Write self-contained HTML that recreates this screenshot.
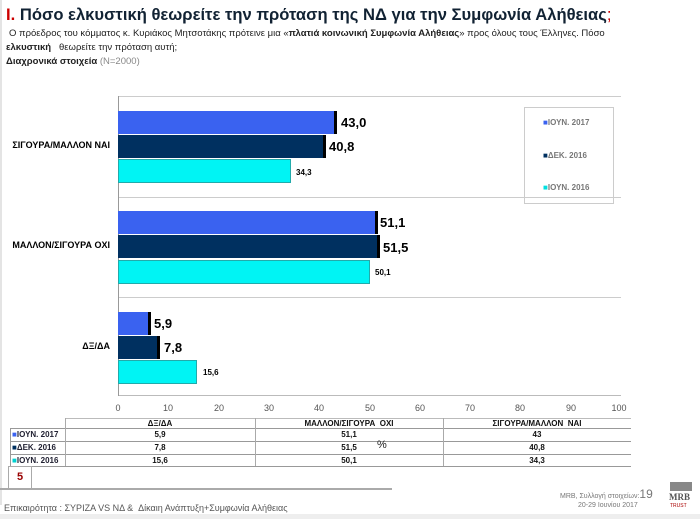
<!DOCTYPE html>
<html><head><meta charset="utf-8"><style>
body{margin:0;width:700px;height:519px;background:#fff;position:relative;overflow:hidden;font-family:"Liberation Sans","DejaVu Sans",sans-serif;}
div{position:absolute;box-sizing:border-box;}
.b{height:23px;}
.c1{background:#3a62f0;}
.c2{background:#003060;}
.c3{background:#00f4f4;border:1px solid #2aa;}
.sh{border-right:3px solid #000;}
.v{font-weight:bold;font-size:13px;color:#000;}
.s{font-weight:bold;font-size:8px;color:#000;}
.cat{font-weight:bold;font-size:9px;right:590px;text-align:right;white-space:nowrap;}
.t{font-size:9px;color:#555;text-align:center;width:30px;}
.cell{font-size:8px;font-weight:bold;text-align:center;color:#111;}
.hl{height:1px;background:#999;left:10px;width:621px;}
</style></head><body>
<div style="left:0;top:0;width:2px;height:505px;background:#e4e4e4"></div>
<div style="left:6px;top:5px;font-size:16.6px;font-weight:bold;color:#123;white-space:nowrap"><span style="color:#c00">I.</span> Πόσο ελκυστική θεωρείτε την πρόταση της ΝΔ για την Συμφωνία Αλήθειας<span style="font-weight:normal;color:#c00">;</span></div>
<div style="left:9px;top:28px;font-size:9.5px;color:#222;white-space:nowrap">Ο πρόεδρος του κόμματος κ. Κυριάκος Μητσοτάκης πρότεινε μια «<b>πλατιά κοινωνική Συμφωνία Αλήθειας</b>» προς όλους τους Έλληνες. Πόσο</div>
<div style="left:6px;top:42px;font-size:9.5px;color:#222;white-space:nowrap"><b>ελκυστική</b> &nbsp; θεωρείτε την πρόταση αυτή;</div>
<div style="left:6px;top:56px;font-size:9.5px;color:#222;white-space:nowrap"><b>Διαχρονικά στοιχεία</b> <span style="color:#888">(N=2000)</span></div>

<div style="left:118px;top:96px;width:503px;height:1px;background:#ccc"></div>
<div style="left:118px;top:197px;width:503px;height:1px;background:#ccc"></div>
<div style="left:118px;top:297px;width:503px;height:1px;background:#ccc"></div>
<div style="left:118px;top:395px;width:503px;height:1px;background:#bbb"></div>
<div style="left:118px;top:96px;width:1px;height:300px;background:#999"></div>

<div class="b c1 sh" style="left:118px;top:111px;width:219px"></div>
<div class="b c2 sh" style="left:118px;top:135px;width:208px"></div>
<div class="b c3" style="left:118px;top:159px;width:173px;height:24px"></div>
<div class="v" style="left:341px;top:115px">43,0</div>
<div class="v" style="left:329px;top:139px">40,8</div>
<div class="s" style="left:296px;top:168px">34,3</div>

<div class="b c1 sh" style="left:118px;top:211px;width:260px"></div>
<div class="b c2 sh" style="left:118px;top:235px;width:262px"></div>
<div class="b c3" style="left:118px;top:260px;width:252px;height:24px"></div>
<div class="v" style="left:380px;top:215px">51,1</div>
<div class="v" style="left:383px;top:240px">51,5</div>
<div class="s" style="left:375px;top:268px">50,1</div>

<div class="b c1 sh" style="left:118px;top:312px;width:33px"></div>
<div class="b c2 sh" style="left:118px;top:336px;width:42px"></div>
<div class="b c3" style="left:118px;top:360px;width:79px;height:24px"></div>
<div class="v" style="left:154px;top:316px">5,9</div>
<div class="v" style="left:164px;top:340px">7,8</div>
<div class="s" style="left:203px;top:368px">15,6</div>

<div class="cat" style="top:140px">ΣΙΓΟΥΡΑ/ΜΑΛΛΟΝ ΝΑΙ</div>
<div class="cat" style="top:240px">ΜΑΛΛΟΝ/ΣΙΓΟΥΡΑ ΟΧΙ</div>
<div class="cat" style="top:341px">ΔΞ/ΔΑ</div>

<div style="left:524px;top:107px;width:90px;height:97px;border:1px solid #ccc"></div>
<div style="left:543px;top:118px;font-size:8px;color:#777;font-weight:bold"><span style="color:#3a62f0">■</span>ΙΟΥΝ. 2017</div>
<div style="left:543px;top:151px;font-size:8px;color:#777;font-weight:bold"><span style="color:#003060">■</span>ΔΕΚ. 2016</div>
<div style="left:543px;top:183px;font-size:8px;color:#777;font-weight:bold"><span style="color:#00e0e0">■</span>ΙΟΥΝ. 2016</div>

<div class="t" style="left:103px;top:403px">0</div><div class="t" style="left:153px;top:403px">10</div><div class="t" style="left:204px;top:403px">20</div><div class="t" style="left:254px;top:403px">30</div><div class="t" style="left:304px;top:403px">40</div><div class="t" style="left:355px;top:403px">50</div><div class="t" style="left:405px;top:403px">60</div><div class="t" style="left:455px;top:403px">70</div><div class="t" style="left:505px;top:403px">80</div><div class="t" style="left:556px;top:403px">90</div><div class="t" style="left:604px;top:403px">100</div>

<div style="left:65px;top:418px;width:566px;height:1px;background:#bbb"></div>
<div class="hl" style="top:428px"></div><div class="hl" style="top:441px"></div><div class="hl" style="top:454px"></div><div class="hl" style="top:466px"></div>
<div style="left:10px;top:428px;width:1px;height:38px;background:#999"></div>
<div style="left:65px;top:418px;width:1px;height:48px;background:#aaa"></div>
<div style="left:255px;top:418px;width:1px;height:48px;background:#aaa"></div>
<div style="left:443px;top:418px;width:1px;height:48px;background:#aaa"></div>
<div class="cell" style="left:65px;top:419px;width:190px">ΔΞ/ΔΑ</div>
<div class="cell" style="left:255px;top:419px;width:188px">ΜΑΛΛΟΝ/ΣΙΓΟΥΡΑ &nbsp;ΟΧΙ</div>
<div class="cell" style="left:443px;top:419px;width:188px">ΣΙΓΟΥΡΑ/ΜΑΛΛΟΝ &nbsp;ΝΑΙ</div>
<div class="cell" style="left:12px;top:430px;text-align:left;color:#223"><span style="color:#3a62f0">■</span>ΙΟΥΝ. 2017</div>
<div class="cell" style="left:12px;top:443px;text-align:left;color:#223"><span style="color:#003060">■</span>ΔΕΚ. 2016</div>
<div class="cell" style="left:12px;top:456px;text-align:left;color:#223"><span style="color:#00d0d0">■</span>ΙΟΥΝ. 2016</div>
<div class="cell" style="left:65px;top:430px;width:190px">5,9</div><div class="cell" style="left:255px;top:430px;width:188px">51,1</div><div class="cell" style="left:443px;top:430px;width:188px">43</div>
<div class="cell" style="left:65px;top:443px;width:190px">7,8</div><div class="cell" style="left:255px;top:443px;width:188px">51,5</div><div class="cell" style="left:443px;top:443px;width:188px">40,8</div>
<div class="cell" style="left:65px;top:456px;width:190px">15,6</div><div class="cell" style="left:255px;top:456px;width:188px">50,1</div><div class="cell" style="left:443px;top:456px;width:188px">34,3</div>
<div style="left:377px;top:439px;font-size:11px;color:#222">%</div>

<div style="left:8px;top:466px;width:24px;height:23px;border:1px solid #aaa;color:#900;font-weight:bold;font-size:11px;text-align:center;line-height:21px">5</div>
<div style="left:0;top:488px;width:392px;height:2px;background:#aaa"></div>
<div style="left:4px;top:503px;font-size:9px;color:#555;white-space:nowrap">Επικαιρότητα : ΣΥΡΙΖΑ VS ΝΔ &amp; &nbsp;Δίκαιη Ανάπτυξη+Συμφωνία Αλήθειας</div>
<div style="left:560px;top:487px;font-size:7px;color:#777;white-space:nowrap">MRB, Συλλογή στοιχείων:<span style="font-size:12px">19</span></div>
<div style="left:578px;top:502px;font-size:7px;color:#777;white-space:nowrap">20-29 Ιουνίου 2017</div>
<div style="left:670px;top:482px;width:22px;height:9px;background:#888"></div>
<div style="left:669px;top:492px;font-size:9px;font-family:'Liberation Serif',serif;color:#555;font-weight:bold">MRB</div>
<div style="left:670px;top:503px;font-size:5px;color:#a00">TRUST</div>
<div style="left:0;top:514px;width:700px;height:5px;background:#eee"></div>
</body></html>
